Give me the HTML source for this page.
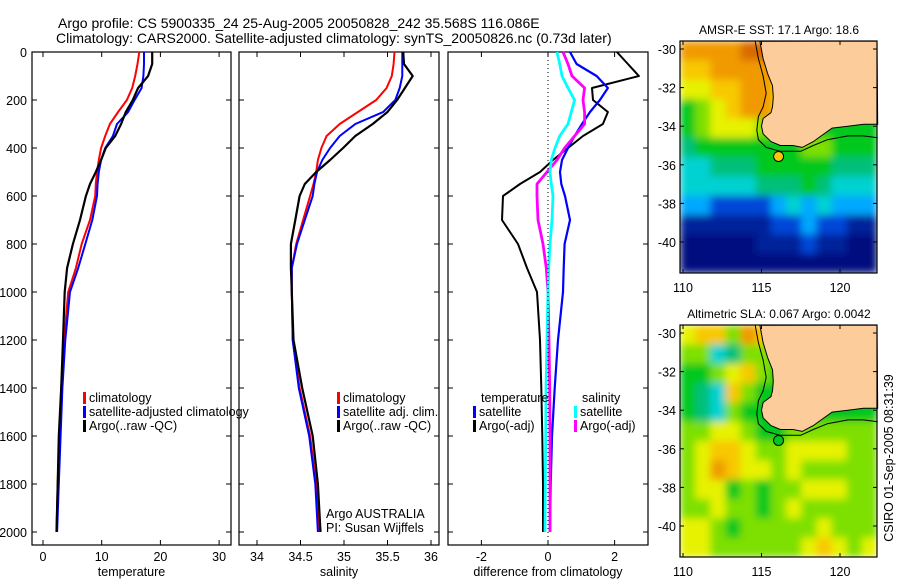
<!DOCTYPE html>
<html><head><meta charset="utf-8"><style>
body{margin:0;background:#fff;}
svg{display:block;font-family:"Liberation Sans",sans-serif;}
</style></head><body>
<svg id="fig" width="900" height="580" xmlns="http://www.w3.org/2000/svg">
<defs>
<filter id="smooth" x="0" y="0" width="100%" height="100%"><feGaussianBlur stdDeviation="4" edgeMode="duplicate"/></filter>
<clipPath id="clipA"><rect x="680" y="41" width="197" height="232"/></clipPath>
<clipPath id="clipB"><rect x="680" y="325" width="197" height="232"/></clipPath>
</defs>
<rect width="900" height="580" fill="#fff"/>
<text x="58" y="28" font-size="14">Argo profile: CS 5900335_24 25-Aug-2005 20050828_242 35.568S 116.086E</text>
<text x="56" y="43" font-size="14">Climatology: CARS2000. Satellite-adjusted climatology: synTS_20050826.nc (0.73d later)</text>
<g id="g"></g>
<text transform="translate(893,458) rotate(-90)" font-size="12.5" text-anchor="middle">CSIRO 01-Sep-2005 08:31:39</text>
</svg>
<script>
const depths=[0,50,100,150,200,250,300,350,400,450,500,550,600,700,800,900,1000,1200,1400,1600,1800,2000];
const tClim=[16.4,16.1,15.7,15.2,14.3,12.8,11.4,10.6,9.9,9.5,9.2,9.0,8.9,8.0,6.6,5.6,4.3,3.6,3.1,2.8,2.5,2.3];
const tSat=[17.2,17.2,17.1,16.8,15.6,14.5,12.6,11.9,10.6,9.9,9.5,9.3,9.2,8.4,7.2,6.0,4.6,3.8,3.3,3.0,2.7,2.4];
const tArgo=[18.6,18.6,17.9,16.2,15.3,14.1,13.3,12.3,10.7,9.9,9.0,8.0,7.3,6.3,5.1,4.1,3.7,3.4,3.1,2.7,2.5,2.3];
const sClim=[35.58,35.57,35.55,35.49,35.37,35.16,34.95,34.80,34.74,34.70,34.68,34.65,34.61,34.53,34.45,34.40,34.40,34.41,34.49,34.61,34.68,34.72];
const sSat=[35.67,35.67,35.67,35.64,35.59,35.45,35.13,34.95,34.84,34.75,34.69,34.66,34.64,34.55,34.46,34.40,34.40,34.41,34.48,34.60,34.67,34.70];
const sArgo=[35.68,35.69,35.79,35.70,35.61,35.50,35.33,35.13,34.99,34.84,34.68,34.55,34.49,34.44,34.39,34.39,34.40,34.42,34.52,34.64,34.70,34.73];
const dTSat=[0.66,0.86,1.46,1.8,1.56,1.26,1.02,0.8,0.6,0.42,0.36,0.4,0.51,0.66,0.5,0.47,0.45,0.3,0.2,0.12,0.08,0.06];
const dTArgo=[2.07,2.4,2.73,1.32,1.35,1.8,1.65,1.05,0.6,0.15,-0.24,-0.84,-1.35,-1.38,-0.9,-0.63,-0.33,-0.24,-0.2,-0.17,-0.15,-0.15];
const dSArgo=[0.45,0.6,0.72,1.1,1.05,1.1,1.1,0.8,0.5,0.27,-0.03,-0.33,-0.33,-0.3,-0.15,-0.05,0,0.03,0.05,0.06,0.06,0.06];
const dSSat=[0.27,0.35,0.42,0.6,0.8,0.7,0.6,0.35,0.21,0.1,0.06,0.1,0.15,0.12,0.06,0.02,0,-0.03,-0.06,-0.07,-0.08,-0.09];
const depthTicks=[0,200,400,600,800,1000,1200,1400,1600,1800,2000];
const tTicks=[0,10,20,30];
const sTicks=[34,34.5,35,35.5,36];
const sTickLabels=["34","34.5","35","35.5","36"];
const dTicks=[-2,0,2];
const lonTicks=[110,115,120];
const latTicks=[-30,-32,-34,-36,-38,-40];
const sstGrid=["aaaabbba99999","99aaaaa899999","8899aa9899999","6789aa9876666","6788877766666","5666666677666","4455566666555","4444455565444","3322223434333","1111112232211","0000011121100","0000000000000"];
const slaGrid=["8997a98776666","7745777776666","6678976666666","6549766666666","6547666666666","7788766777777","7899877888877","78a9887877777","7886767788877","7787767877777","8876777778777","8877777789878"];
const coastLon=[114.9,115.1,115.4,115.7,115.75,115.7,115.6,115.1,115.0,115.1,115.6,116.2,117.0,117.6,118.3,118.8,119.5,120.5,121.5,122.4];
const coastLat=[-29.6,-30.5,-31.3,-31.9,-32.5,-33.0,-33.3,-33.6,-34.0,-34.4,-34.8,-35.0,-35.0,-35.1,-34.8,-34.5,-34.1,-34.0,-33.9,-33.9];
const isoLon=[114.6,114.8,115.1,115.3,115.1,114.8,114.7,114.8,115.3,116.2,117.5,118.3,119.2,120.5,121.5,122.4];
const isoLat=[-29.6,-30.5,-31.4,-32.3,-33.0,-33.5,-34.2,-34.7,-35.1,-35.3,-35.3,-35.0,-34.7,-34.5,-34.5,-34.6];
const argoLon=116.086, argoLat=-35.568;

const NS="http://www.w3.org/2000/svg";
const G=document.getElementById('g');
function el(tag,attrs,parent){const e=document.createElementNS(NS,tag);for(const k in attrs)e.setAttribute(k,attrs[k]);(parent||G).appendChild(e);return e;}
function txt(x,y,s,size,anchor,parent){const t=el('text',{x:x,y:y,'font-size':size,'text-anchor':anchor||'start'},parent);t.textContent=s;return t;}
const yD=d=>52+d*0.24;

function panel(name,x0,x1,xf,ticks,labels,xlabel,series,colors,widths){
  const g=el('g',{});
  
  
  el('rect',{x:x0,y:52,width:x1-x0,height:493,fill:'none',stroke:'#000','stroke-width':1.2},g);
  depthTicks.forEach(d=>{const y=yD(d);el('line',{x1:x0,x2:x0+5,y1:y,y2:y,stroke:'#000'},g);el('line',{x1:x1-5,x2:x1,y1:y,y2:y,stroke:'#000'},g);});
  ticks.forEach((v,i)=>{const x=xf(v);el('line',{x1:x,x2:x,y1:52,y2:57,stroke:'#000'},g);el('line',{x1:x,x2:x,y1:540,y2:545,stroke:'#000'},g);const t=txt(x,561,labels[i],12.5,'middle',g);});
  const xl=txt((x0+x1)/2,576,xlabel,12.5,'middle',g);
  
  
  series.forEach((s,i)=>{const p=el('polyline',{points:s.map((v,j)=>xf(v).toFixed(1)+','+yD(depths[j]).toFixed(1)).join(' '),fill:'none',stroke:colors[i],'stroke-width':widths[i],'stroke-linejoin':'round'},g);});
  return g;
}
const xT=v=>43+v*5.87, xS=v=>257+(v-34)*87, xDf=v=>548+v*33.3;
panel('temperature-panel',32,231,xT,tTicks,tTicks.map(String),'temperature',[tClim,tSat,tArgo],['#f00','#00f','#000'],[2,2,2.2]);
depthTicks.forEach(d=>{const t=txt(27,yD(d)+5,String(d),12.5,'end');});
panel('salinity-panel',239,439,xS,sTicks,sTickLabels,'salinity',[sClim,sSat,sArgo],['#f00','#00f','#000'],[2,2,2.2]);
const p3=panel('difference-panel',448,648,xDf,dTicks,['-2','0','2'],'difference from climatology',[dTArgo,dTSat,dSArgo,dSSat],['#000','#00f','#f0f','#0ff'],[2,2.2,2.8,2.8]);
el('line',{x1:548,x2:548,y1:52,y2:540,stroke:'#000','stroke-dasharray':'1,3'},p3);

function legend(x,y,items){items.forEach((it,i)=>{el('rect',{x:x,y:y+i*14-10,width:3,height:12,fill:it[0]});const t=txt(x+6,y+i*14,it[1],12.5);});}
legend(83,402,[['#f00','climatology'],['#00f','satellite-adjusted climatology'],['#000','Argo(..raw -QC)']]);
legend(337,402,[['#f00','climatology'],['#00f','satellite adj. clim.'],['#000','Argo(..raw -QC)']]);
txt(326,518,'Argo AUSTRALIA',12.5);txt(326,532,'PI: Susan Wijffels',12.5);
txt(481,402,'temperature',12.5);legend(473,416,[['#00f','satellite'],['#000','Argo(-adj)']]);
txt(582,402,'salinity',12.5);legend(574,416,[['#0ff','satellite'],['#f0f','Argo(-adj)']]);

const cmap={'0':'#00087f','1':'#00209a','2':'#0046d8','3':'#00a8ff','4':'#00d2d2','5':'#00c07a','6':'#00c81e','7':'#7ee000','8':'#e6f200','9':'#f8c800','a':'#f09a00','b':'#d86a00'};
function map(name,top,title,grid,clip){
  const g=el('g',{});
  
  
  const x0=680,x1=877,y0=top,y1=top+232;
  const lx=v=>683+(v-110)*15.7, ly=v=>top+8+(-30-v)*19.3;
  const cw=(x1-x0)/grid[0].length, ch=(y1-y0)/grid.length;
  const cg=el('g',{'clip-path':'url(#'+clip+')'},g);
  const img=el('g',{filter:'url(#smooth)'},cg);
  el('rect',{x:x0,y:y0,width:x1-x0,height:y1-y0,fill:'#00c81e'},img);
  grid.forEach((row,r)=>{[...row].forEach((c,k)=>{el('rect',{x:x0+k*cw,y:y0+r*ch,width:cw+0.5,height:ch+0.5,fill:cmap[c]},img);});});
  const cpts=coastLon.map((v,i)=>lx(v).toFixed(1)+','+ly(coastLat[i]).toFixed(1));
  el('polygon',{points:cpts.join(' ')+' '+x1+','+y0,fill:'#fccc9a',stroke:'#000','stroke-width':1},g);
  el('polyline',{points:isoLon.map((v,i)=>lx(v).toFixed(1)+','+ly(isoLat[i]).toFixed(1)).join(' '),fill:'none',stroke:'#000','stroke-width':1},g);
  el('circle',{cx:lx(argoLon),cy:ly(argoLat),r:5,fill:name==='sst-map'?'#f8c800':'#00c81e',stroke:'#000'},g);
  el('rect',{x:x0,y:y0,width:x1-x0,height:y1-y0,fill:'none',stroke:'#000','stroke-width':1.2},g);
  lonTicks.forEach(v=>{const x=lx(v);el('line',{x1:x,x2:x,y1:y0,y2:y0+4,stroke:'#000'},g);el('line',{x1:x,x2:x,y1:y1-4,y2:y1,stroke:'#000'},g);txt(x,y1+19,String(v),12.5,'middle',g);});
  latTicks.forEach(v=>{const y=ly(v);el('line',{x1:x0,x2:x0+4,y1:y,y2:y,stroke:'#000'},g);el('line',{x1:x1-4,x2:x1,y1:y,y2:y,stroke:'#000'},g);txt(676,y+5,String(v),12.5,'end',g);});
  txt(779,top-7,title,12,'middle',g);
}
map('sst-map',41,'AMSR-E SST: 17.1 Argo: 18.6',sstGrid,'clipA');
map('sla-map',325,'Altimetric SLA: 0.067 Argo: 0.0042',slaGrid,'clipB');
</script>
</body></html>
